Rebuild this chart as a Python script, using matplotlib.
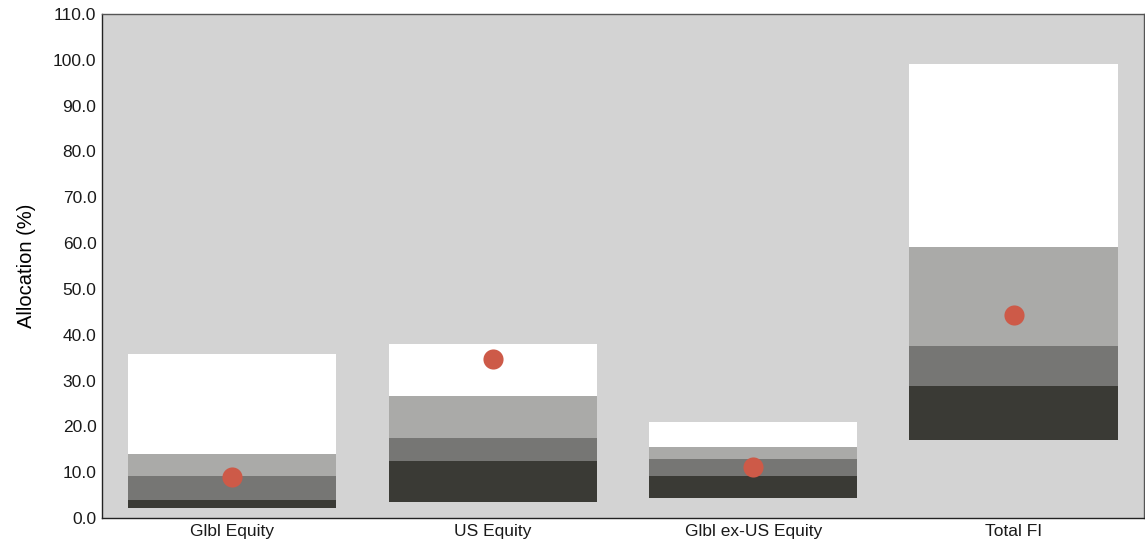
import matplotlib.pyplot as plt
import numpy as np

plt.rcParams['font.family'] = ['Liberation Sans', 'DejaVu Sans']

# Data (allocation %, band boundaries per category)
categories = ["Glbl Equity", "US Equity", "Glbl ex-US Equity", "Total FI"]
band_min = [2.1, 3.4, 4.3, 17.0]
band_p25 = [3.9, 12.4, 9.1, 28.7]
band_p50 = [9.2, 17.5, 12.8, 37.6]
band_p75 = [13.9, 26.6, 15.5, 59.1]
band_max = [35.8, 38.0, 21.0, 99.1]
current = [9.0, 34.8, 11.1, 44.2]

band_colors = ["#3a3a35", "#767674", "#aaaaa8", "#ffffff"]

fig = plt.figure(figsize=(11.45, 5.46), dpi=100)
ax = fig.add_axes([0.0891, 0.0513, 0.9099, 0.9231])
ax.set_facecolor("#d3d3d3")

x = np.arange(len(categories))
edges = [band_min, band_p25, band_p50, band_p75, band_max]
for i, color in enumerate(band_colors):
    lo = np.array(edges[i])
    hi = np.array(edges[i + 1])
    ax.bar(x, hi - lo, bottom=lo, width=0.8, color=color, linewidth=0, zorder=2)

ax.scatter(x, current, s=210, color="#cd5a48", zorder=3, linewidths=0)

ax.set_xlim(-0.5, 3.5)
ax.set_ylim(0, 110)
ax.set_yticks(np.arange(0, 111, 10))
ax.set_yticklabels([f"{v:.1f}" for v in np.arange(0, 111, 10)])
ax.set_xticks(x)
ax.set_xticklabels(categories)
ax.tick_params(length=0, labelsize=12.5, colors="#1a1a1a", pad=4)
ax.set_ylabel("Allocation (%)", fontsize=14.5, labelpad=12)

for side in ["left", "bottom"]:
    ax.spines[side].set_color("#222222")
for side in ["top", "right"]:
    ax.spines[side].set_color("#555555")
for sp in ax.spines.values():
    sp.set_linewidth(1.0)

fig.savefig("out.png", dpi=100)
